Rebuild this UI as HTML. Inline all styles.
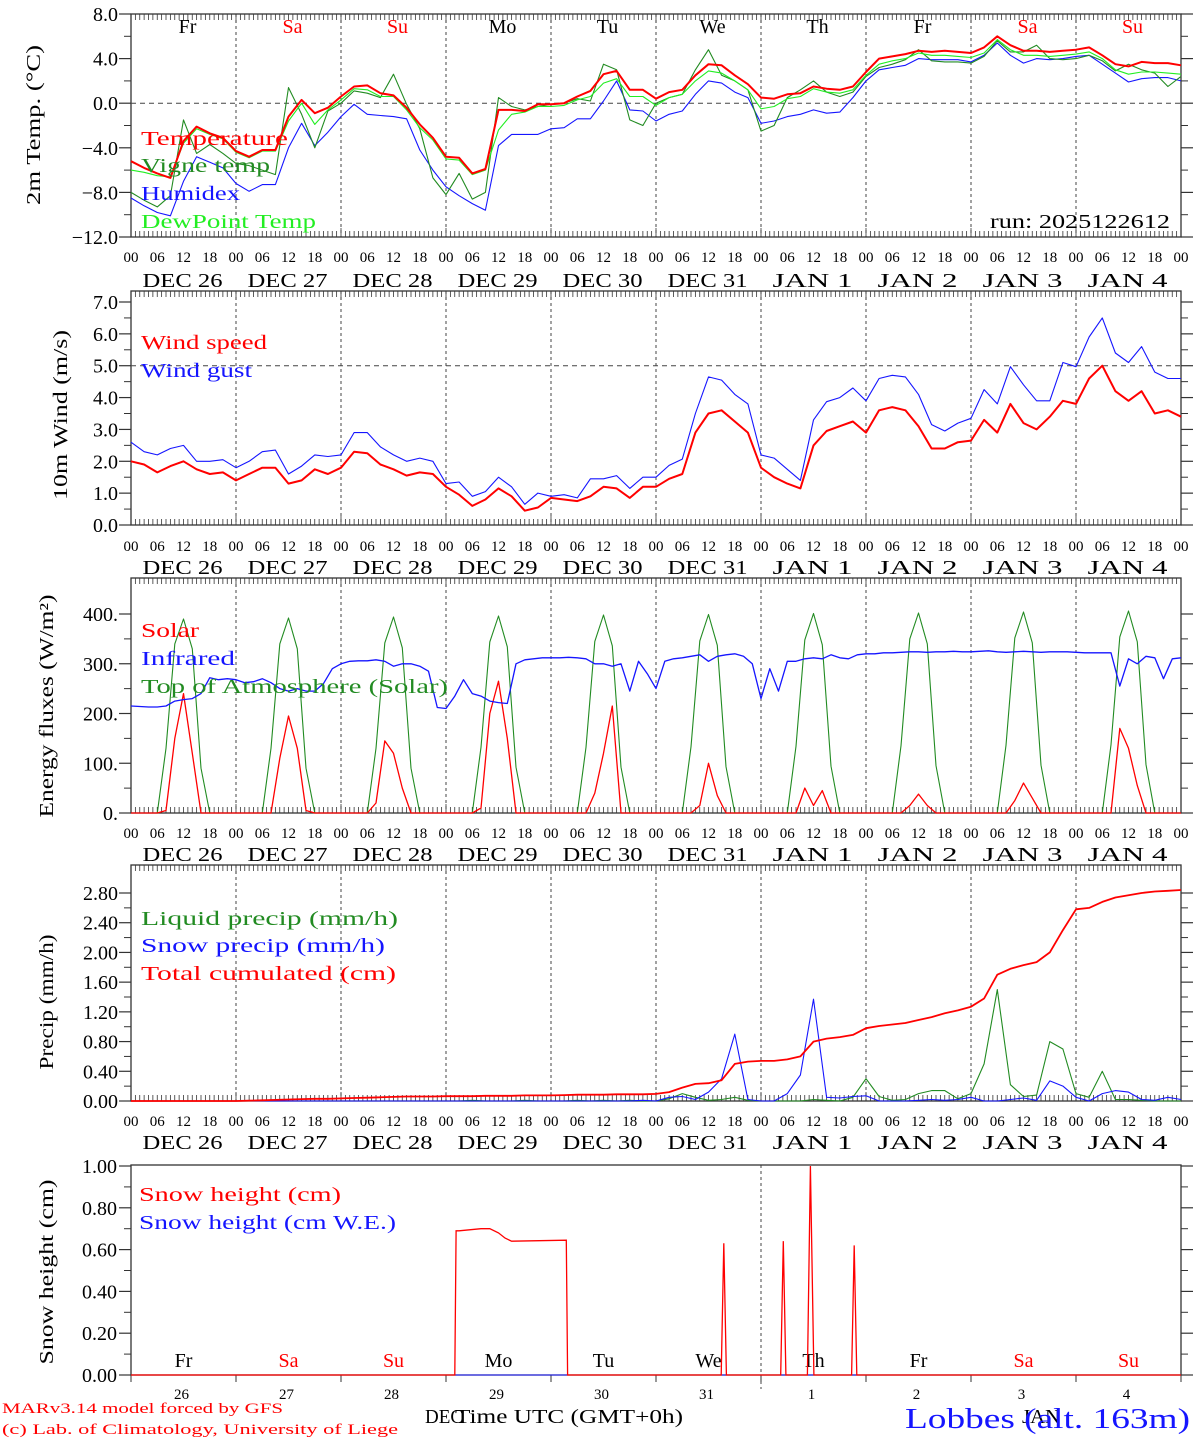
<!DOCTYPE html>
<html><head><meta charset="utf-8">
<style>
html,body{margin:0;padding:0;background:#fff;}
svg{display:block;font-family:"Liberation Serif",serif;}
</style></head>
<body>
<svg id="chart" xmlns="http://www.w3.org/2000/svg" width="1194" height="1440" viewBox="0 0 1194 1440"></svg>
<script>
// ---------- DATA (3-hourly, h = 0..240) ----------
const dayNames = ["Fr","Sa","Su","Mo","Tu","We","Th","Fr","Sa","Su"];
const dayNameColors = ["#000","#f00","#f00","#000","#000","#000","#000","#000","#f00","#f00"];
const dateLabels = ["DEC 26","DEC 27","DEC 28","DEC 29","DEC 30","DEC 31","JAN  1","JAN  2","JAN  3","JAN  4"];
const dayNums = ["26","27","28","29","30","31","1","2","3","4"];
const hourLabels = ["00","06","12","18"];

const tempValues = [-5.2,-5.8,-6.3,-6.7,-3.4,-2.1,-2.7,-3.1, -4.3,-4.8,-4.2,-4.2,-1.2,0.3,-0.9,-0.4, 0.6,1.5,1.6,0.9,0.7,-0.4,-1.9,-3.1, -4.8,-4.9,-6.3,-5.9,-0.6,-0.6,-0.7,-0.1, -0.1,0.0,0.6,1.1,2.6,2.9,1.2,1.2, 0.4,1.0,1.2,2.5,3.5,3.4,2.5,1.7, 0.5,0.4,0.8,0.9,1.5,1.3,1.2,1.5, 2.8,4.0,4.2,4.4,4.7,4.6,4.7,4.6, 4.5,5.0,6.0,5.2,4.7,4.7,4.6,4.7, 4.8,5.0,4.3,3.5,3.3,3.7,3.6,3.6, 3.4];
const vigneValues = [-8.0,-8.7,-9.3,-8.3,-1.5,-4.5,-3.7,-4.5, -5.4,-5.6,-6.0,-6.4,1.4,-1.0,-4.0,-0.7, 0.0,1.1,0.9,0.5,2.6,-0.1,-2.3,-6.7, -8.2,-6.3,-8.6,-8.0,0.5,-0.3,-0.6,-0.3, -0.1,0.0,0.4,0.2,3.5,3.0,-1.5,-2.0, 0.0,0.5,0.8,3.0,4.8,2.5,2.0,1.2, -2.5,-2.0,0.5,1.2,2.0,1.0,0.6,1.0, 2.4,3.2,3.5,3.9,4.8,3.8,3.7,3.7, 3.6,4.2,5.6,4.6,4.6,5.2,4.0,3.9, 4.0,4.3,3.8,2.9,3.5,3.0,2.7,1.5, 2.4];
const humidexValues = [-8.5,-9.2,-9.8,-10.1,-7.0,-4.8,-5.3,-5.8, -7.2,-7.9,-7.3,-7.3,-4.0,-1.8,-3.8,-2.6, -1.2,-0.1,-1.0,-1.1,-1.2,-1.4,-4.2,-6.0, -7.5,-8.3,-9.0,-9.6,-3.8,-2.8,-2.8,-2.8, -2.3,-2.2,-1.4,-1.4,0.2,2.0,-0.6,-0.7, -1.6,-1.0,-0.7,0.8,2.0,1.8,1.0,0.5, -1.8,-1.6,-1.2,-1.0,-0.6,-0.9,-0.8,0.5, 2.0,3.0,3.2,3.4,4.0,3.9,3.9,3.9, 3.7,4.3,5.4,4.3,3.6,4.0,3.9,4.0, 4.2,4.3,3.5,2.7,1.9,2.2,2.3,2.3, 2.0];
const dewValues = [-6.0,-6.2,-6.5,-6.6,-3.6,-2.3,-2.8,-3.2, -4.4,-4.9,-4.3,-4.3,-1.6,0.0,-1.9,-0.6, 0.3,1.3,1.2,0.6,0.6,-0.6,-2.2,-3.3, -5.0,-5.1,-6.4,-6.0,-2.4,-1.0,-0.8,-0.3, -0.3,-0.2,0.3,0.6,1.8,2.2,0.6,0.6, -0.2,0.5,0.8,2.0,2.9,2.7,2.0,1.2, -0.5,-0.3,0.4,0.6,1.3,1.0,0.9,1.2, 2.5,3.5,3.8,4.0,4.5,4.3,4.3,4.2, 4.1,4.5,5.7,4.8,4.3,4.3,4.2,4.3, 4.4,4.6,4.0,3.0,2.6,2.8,2.8,2.7, 2.6];

const windValues = [2.0,1.9,1.65,1.85,2.0,1.75,1.6,1.65, 1.4,1.6,1.8,1.8,1.3,1.4,1.75,1.6, 1.8,2.3,2.25,1.9,1.75,1.55,1.65,1.6, 1.2,0.95,0.6,0.8,1.15,0.9,0.45,0.55, 0.85,0.8,0.75,0.9,1.2,1.15,0.85,1.2, 1.2,1.45,1.6,2.9,3.5,3.6,3.25,2.9, 1.8,1.5,1.3,1.15,2.5,2.95,3.1,3.25, 2.9,3.6,3.7,3.6,3.1,2.4,2.4,2.6, 2.65,3.3,2.9,3.8,3.2,3.0,3.4,3.9, 3.8,4.6,5.0,4.2,3.9,4.2,3.5,3.6, 3.4];
const gustValues = [2.6,2.3,2.2,2.4,2.5,2.0,2.0,2.05, 1.8,2.0,2.3,2.35,1.6,1.85,2.2,2.15, 2.2,2.9,2.9,2.45,2.2,2.0,2.1,2.0, 1.3,1.35,0.9,1.05,1.5,1.2,0.65,1.0, 0.9,0.95,0.85,1.45,1.45,1.55,1.15,1.5, 1.5,1.87,2.07,3.5,4.65,4.55,4.1,3.8, 2.2,2.1,1.75,1.4,3.3,3.87,4.0,4.3, 3.9,4.6,4.7,4.65,4.1,3.15,2.95,3.2, 3.35,4.25,3.8,4.97,4.4,3.9,3.9,5.1, 4.97,5.9,6.5,5.4,5.1,5.6,4.8,4.6, 4.6];

const totalPrecip = [0,0,0,0,0,0,0,0, 0,0.005,0.01,0.015,0.02,0.025,0.03,0.03, 0.035,0.04,0.045,0.05,0.055,0.06,0.06,0.06, 0.065,0.065,0.065,0.07,0.07,0.07,0.075,0.075, 0.075,0.08,0.085,0.085,0.085,0.09,0.09,0.09, 0.095,0.12,0.18,0.23,0.24,0.28,0.50,0.53, 0.54,0.54,0.56,0.6,0.8,0.84,0.86,0.89, 0.98,1.01,1.03,1.05,1.09,1.13,1.18,1.22, 1.27,1.38,1.7,1.78,1.83,1.87,2.0,2.3, 2.58,2.6,2.68,2.74,2.77,2.8,2.82,2.83, 2.84];
const liquidPrecip = [0,0,0,0,0,0,0,0, 0,0,0,0,0,0,0,0, 0,0,0,0,0,0,0,0, 0,0,0.01,0,0,0,0.01,0, 0,0,0.01,0,0.01,0,0.01,0, 0,0.03,0.1,0.05,0.01,0.02,0.05,0.01, 0,0,0,0,0.02,0.01,0,0.05, 0.3,0.06,0.01,0.02,0.1,0.14,0.14,0.03, 0.1,0.5,1.5,0.22,0.06,0.08,0.8,0.7, 0.1,0.05,0.4,0.02,0.02,0.01,0,0, 0];
const snowPrecip = [0,0,0,0,0,0,0,0, 0,0,0,0,0,0,0,0, 0,0,0,0,0,0,0,0, 0,0,0,0,0,0,0,0, 0,0,0,0,0,0,0,0.01, 0,0.05,0.06,0.02,0.12,0.3,0.9,0.02, 0,0,0.1,0.35,1.37,0.05,0.04,0.06, 0.07,0,0,0,0.01,0.02,0.01,0.02, 0.05,0,0,0.02,0.04,0.01,0.27,0.2, 0.05,0,0.1,0.14,0.12,0.02,0.01,0.05, 0.02];

// Energy (2-hourly, h = 0..240)
const solarValues = [0,0,0,0,5,150,240,120,0,0,0,0, 0,0,0,0,0,110,195,130,5,0,0,0, 0,0,0,0,20,145,120,50,0,0,0,0, 0,0,0,0,10,200,265,150,0,0,0,0, 0,0,0,0,0,40,120,215,0,0,0,0, 0,0,0,0,0,15,100,35,0,0,0,0, 0,0,0,0,0,50,15,45,0,0,0,0, 0,0,0,0,0,15,38,15,0,0,0,0, 0,0,0,0,0,25,60,30,0,0,0,0, 0,0,0,0,0,170,130,55,0,0,0,0, 0];
const infraredValues = [215,214,213,213,215,225,228,230,240,272,268,270, 268,262,264,270,262,250,245,250,245,245,260,290, 300,305,306,306,308,305,295,300,300,295,285,212, 210,235,268,240,235,225,222,220,300,308,310,312, 312,312,313,312,310,300,300,295,300,245,305,280, 250,305,310,312,315,318,305,315,318,320,315,300, 230,290,245,305,305,310,312,310,318,312,310,318, 320,320,322,322,323,324,324,323,324,324,325,324, 324,325,326,324,323,324,325,324,323,324,324,324, 323,322,322,322,322,255,310,300,315,312,270,310, 312];
const toaValues = [0,0,0,0,130,340,390,330,90,0,0,0, 0,0,0,0,130,340,392,330,90,0,0,0, 0,0,0,0,130,342,394,332,90,0,0,0, 0,0,0,0,132,344,396,334,92,0,0,0, 0,0,0,0,132,345,398,336,92,0,0,0, 0,0,0,0,133,346,399,337,93,0,0,0, 0,0,0,0,134,348,401,338,94,0,0,0, 0,0,0,0,135,350,402,340,95,0,0,0, 0,0,0,0,136,352,404,342,96,0,0,0, 0,0,0,0,137,354,406,344,97,0,0,0, 0];

// Snow height (hours, cm)
const snowHours = [0,74,74.3,75,80,82,84,85.5,87,99.5,99.8,134.9,135.5,136.1,148.5,149.1,149.7,154.6,155.3,156.1,164.7,165.3,165.9,240];
const snowHeight = [0,0,0.69,0.69,0.70,0.70,0.68,0.655,0.64,0.645,0,0,0.63,0,0,0.64,0,0,1.0,0,0,0.62,0,0];

// ---------- DRAWING ----------
const NS = "http://www.w3.org/2000/svg";
const svg = document.getElementById("chart");
const X0 = 131, X1 = 1181;
function xh(h){ return X0 + h*(X1-X0)/240; }
function mk(tag, attrs, parent){
  const e = document.createElementNS(NS, tag);
  for (const k in attrs) e.setAttribute(k, attrs[k]);
  (parent||svg).appendChild(e);
  return e;
}
function txt(s, x, y, size, color, anchor, parent, len){
  const t = mk("text", {x:x, y:y, "font-size":size, fill:color||"#000", "text-anchor":anchor||"start"}, parent);
  t.setAttribute("xml:space","preserve");
  if (len){ t.setAttribute("textLength", len); t.setAttribute("lengthAdjust","spacingAndGlyphs"); }
  t.textContent = s;
  return t;
}
function scaleY(y0, v0, y1, v1){ return v => y0 + (v - v0)*(y1 - y0)/(v1 - v0); }

function frame(p, name, hourTicks){
  const g = mk("g", {});
  
  
  for (let d=1; d<10; d++){
    const x = xh(d*24);
    const l = mk("line", {x1:x, x2:x, y1:p.top, y2:p.bot, stroke:"#444", "stroke-width":1, "stroke-dasharray":"3,3"}, g);
    
    
  }
  if (hourTicks){
    for (let h=0; h<=240; h++){
      const x = xh(h);
      const len = (h%24===0) ? 9 : 6;
      mk("line", {x1:x, x2:x, y1:p.top, y2:p.top+len, stroke:"#333", "stroke-width":0.8}, g);
      mk("line", {x1:x, x2:x, y1:p.bot, y2:p.bot-len, stroke:"#333", "stroke-width":0.8}, g);
    }
  }
  p.minor.forEach(v => {
    const y = p.y(v);
    mk("line", {x1:X0-7, x2:X0, y1:y, y2:y, stroke:"#333", "stroke-width":1}, g);
    mk("line", {x1:X1, x2:X1+7, y1:y, y2:y, stroke:"#333", "stroke-width":1}, g);
  });
  p.major.forEach((v,i) => {
    const y = p.y(v);
    mk("line", {x1:X0-12, x2:X0, y1:y, y2:y, stroke:"#333", "stroke-width":1.2}, g);
    mk("line", {x1:X1, x2:X1+12, y1:y, y2:y, stroke:"#333", "stroke-width":1.2}, g);
    const t = txt(p.labels[i], 118, y+7, 20, "#000", "end", g);
    
    
  });
  const r = mk("rect", {x:X0, y:p.top, width:X1-X0, height:p.bot-p.top, fill:"none", stroke:"#333", "stroke-width":1.3}, g);
  
  
  return g;
}
function xAxisLabels(p, name){
  const g = mk("g", {});
  
  
  for (let d=0; d<=10; d++){
    for (let k=0; k<4; k++){
      if (d===10 && k>0) break;
      const t = txt(hourLabels[k], xh(d*24+k*6), p.hourY, 15, "#000", "middle", g);
      
      
    }
  }
  for (let d=0; d<10; d++){
    const t = txt(dateLabels[d], xh(d*24+12)-1, p.dateY, 20, "#000", "middle", g, 80);
    
    
  }
}
function series3(p, values, color, width, name){
  const pts = values.map((v,i) => xh(i*3).toFixed(1)+","+p.y(v).toFixed(1)).join(" ");
  const l = mk("polyline", {points:pts, fill:"none", stroke:color, "stroke-width":width, "stroke-linejoin":"round"});
  
  
}
function series2(p, values, color, width, name){
  const pts = values.map((v,i) => xh(i*2).toFixed(1)+","+p.y(v).toFixed(1)).join(" ");
  const l = mk("polyline", {points:pts, fill:"none", stroke:color, "stroke-width":width, "stroke-linejoin":"round"});
  
  
}
function legend(s, x, y, color, len, name){
  const t = txt(s, x, y, 20, color, "start", svg, len);
  
  
}
function yTitle(s, x, y, len, name){
  const t = txt(s, 0, 0, 20, "#000", "middle", svg, len);
  t.setAttribute("transform", "translate("+x+","+y+") rotate(-90)");
  
  
  return t;
}
function hline(p, v, name){
  const l = mk("line", {x1:X0, x2:X1, y1:p.y(v), y2:p.y(v), stroke:"#444", "stroke-width":1, "stroke-dasharray":"5,4"});
  
  
}

// Panel 1: temperature
const P1 = {top:14, bot:237, y:scaleY(237,-12,14,8), hourY:262, dateY:287,
  major:[8,4,0,-4,-8,-12], labels:["8.0","4.0","0.0","−4.0","−8.0","−12.0"], minor:[6,2,-2,-6,-10]};
frame(P1, "temperature-panel", true);
hline(P1, 0, "zero-line");
for (let d=0; d<10; d++){
  const t = txt(dayNames[d], xh(d*24+12)+4, 33, 20, dayNameColors[d], "middle");
  
  
}
series3(P1, humidexValues, "#1515ff", 1.1, "humidex-line");
series3(P1, vigneValues, "#228b22", 1.1, "vigne-temp-line");
series3(P1, dewValues, "#22ee22", 1.1, "dewpoint-line");
series3(P1, tempValues, "#ff0000", 2, "temperature-line");
legend("Temperature", 141, 145, "#ff0000", 147, "legend-temperature");
legend("Vigne temp", 141, 172, "#228b22", 129, "legend-vigne-temp");
legend("Humidex", 141, 200, "#1515ff", 99, "legend-humidex");
legend("DewPoint Temp", 141, 228, "#22ee22", 175, "legend-dewpoint");
legend("run: 2025122612", 990, 228, "#000", 180, "run-label");
yTitle("2m Temp. (°C)", 40, 125, 160, "y-axis-title-temp");
xAxisLabels(P1, "x-axis-temp");

// Panel 2: wind
const P2 = {top:291, bot:525, y:scaleY(525,0,302,7), hourY:551, dateY:574,
  major:[7,6,5,4,3,2,1,0], labels:["7.0","6.0","5.0","4.0","3.0","2.0","1.0","0.0"], minor:[6.5,5.5,4.5,3.5,2.5,1.5,0.5]};
frame(P2, "wind-panel", true);
hline(P2, 5, "gust-threshold-line");
series3(P2, gustValues, "#1515ff", 1.1, "wind-gust-line");
series3(P2, windValues, "#ff0000", 2, "wind-speed-line");
legend("Wind speed", 141, 349, "#ff0000", 126, "legend-wind-speed");
legend("Wind gust", 141, 377, "#1515ff", 111, "legend-wind-gust");
yTitle("10m Wind (m/s)", 67, 415, 170, "y-axis-title-wind");
xAxisLabels(P2, "x-axis-wind");

// Panel 3: energy
const P3 = {top:578, bot:813, y:scaleY(813,0,614,400), hourY:838, dateY:861,
  major:[400,300,200,100,0], labels:["400.","300.","200.","100.","0."], minor:[350,250,150,50]};
frame(P3, "energy-panel", true);
series2(P3, toaValues, "#228b22", 1.1, "toa-solar-line");
series2(P3, solarValues, "#ff0000", 1.3, "solar-line");
series2(P3, infraredValues, "#1515ff", 1.3, "infrared-line");
legend("Solar", 141, 637, "#ff0000", 58, "legend-solar");
legend("Infrared", 141, 665, "#1515ff", 94, "legend-infrared");
legend("Top of Atmosphere (Solar)", 141, 693, "#228b22", 307, "legend-toa");
yTitle("Energy fluxes (W/m²)", 53, 706, 223, "y-axis-title-energy");
xAxisLabels(P3, "x-axis-energy");

// Panel 4: precipitation
const P4 = {top:865, bot:1101, y:scaleY(1101,0,893,2.8), hourY:1126, dateY:1149,
  major:[2.8,2.4,2.0,1.6,1.2,0.8,0.4,0], labels:["2.80","2.40","2.00","1.60","1.20","0.80","0.40","0.00"], minor:[2.6,2.2,1.8,1.4,1.0,0.6,0.2]};
frame(P4, "precip-panel", true);
series3(P4, liquidPrecip, "#228b22", 1.1, "liquid-precip-line");
series3(P4, snowPrecip, "#1515ff", 1.1, "snow-precip-line");
series3(P4, totalPrecip, "#ff0000", 1.8, "total-cumulated-line");
legend("Liquid precip (mm/h)", 141, 925, "#228b22", 257, "legend-liquid-precip");
legend("Snow precip (mm/h)", 141, 952, "#1515ff", 244, "legend-snow-precip");
legend("Total cumulated (cm)", 141, 980, "#ff0000", 255, "legend-total-cumulated");
yTitle("Precip (mm/h)", 53, 1002, 135, "y-axis-title-precip");
xAxisLabels(P4, "x-axis-precip");

// Panel 5: snow height
const P5 = {top:1165, bot:1375, y:scaleY(1375,0,1166,1),
  major:[1,0.8,0.6,0.4,0.2,0], labels:["1.00","0.80","0.60","0.40","0.20","0.00"], minor:[0.9,0.7,0.5,0.3,0.1]};
const g5 = mk("g", {});


const midLine = mk("line", {x1:xh(144), x2:xh(144), y1:P5.top, y2:P5.bot+14, stroke:"#444", "stroke-width":1, "stroke-dasharray":"3,3"}, g5);


P5.minor.forEach(v => {
  mk("line", {x1:X0-7, x2:X0, y1:P5.y(v), y2:P5.y(v), stroke:"#333"}, g5);
  mk("line", {x1:X1, x2:X1+7, y1:P5.y(v), y2:P5.y(v), stroke:"#333"}, g5);
});
P5.major.forEach((v,i) => {
  mk("line", {x1:X0-12, x2:X0, y1:P5.y(v), y2:P5.y(v), stroke:"#333", "stroke-width":1.2}, g5);
  mk("line", {x1:X1, x2:X1+12, y1:P5.y(v), y2:P5.y(v), stroke:"#333", "stroke-width":1.2}, g5);
  const t = txt(P5.labels[i], 117, P5.y(v)+7, 20, "#000", "end", g5);
  
  
});
for (let d=0; d<=10; d++){
  mk("line", {x1:xh(d*24), x2:xh(d*24), y1:P5.bot, y2:P5.bot+7, stroke:"#333"}, g5);
}
const r5 = mk("rect", {x:X0, y:P5.top, width:X1-X0, height:P5.bot-P5.top, fill:"none", stroke:"#333", "stroke-width":1.3}, g5);


for (let d=0; d<10; d++){
  const t = txt(dayNames[d], xh(d*24+12), 1367, 20, dayNameColors[d], "middle");
  
  
  const n = txt(dayNums[d], xh(d*24+12)-2, 1399, 15, "#000", "middle");
  
  
}
const weLine = mk("line", {x1:X0, x2:X1, y1:P5.y(0), y2:P5.y(0), stroke:"#1515ff", "stroke-width":1});


const snowPts = snowHours.map((h,i) => xh(h).toFixed(1)+","+P5.y(snowHeight[i]).toFixed(1)).join(" ");
const snowLine = mk("polyline", {points:snowPts, fill:"none", stroke:"#ff0000", "stroke-width":1.3});


legend("Snow height (cm)", 139, 1201, "#ff0000", 202, "legend-snow-height");
legend("Snow height (cm W.E.)", 139, 1229, "#1515ff", 257, "legend-snow-height-we");
yTitle("Snow height (cm)", 53, 1272, 185, "y-axis-title-snow");

// Footer
const f1 = txt("MARv3.14 model forced by GFS", 2, 1413, 15, "#ff0000", "start", svg, 281);


const f2 = txt("(c) Lab. of Climatology, University of Liege", 2, 1434, 15, "#ff0000", "start", svg, 396);


const f3 = txt("DEC", 425, 1423, 20, "#000", "start", svg, 38);


const f4 = txt("Time UTC (GMT+0h)", 455, 1423, 20, "#000", "start", svg, 228);


const f5 = txt("JAN", 1022, 1423, 20, "#000", "start", svg, 38);


const f6 = txt("Lobbes (alt. 163m)", 905, 1428, 28, "#1515ff", "start", svg, 285);


</script>
</body></html>
